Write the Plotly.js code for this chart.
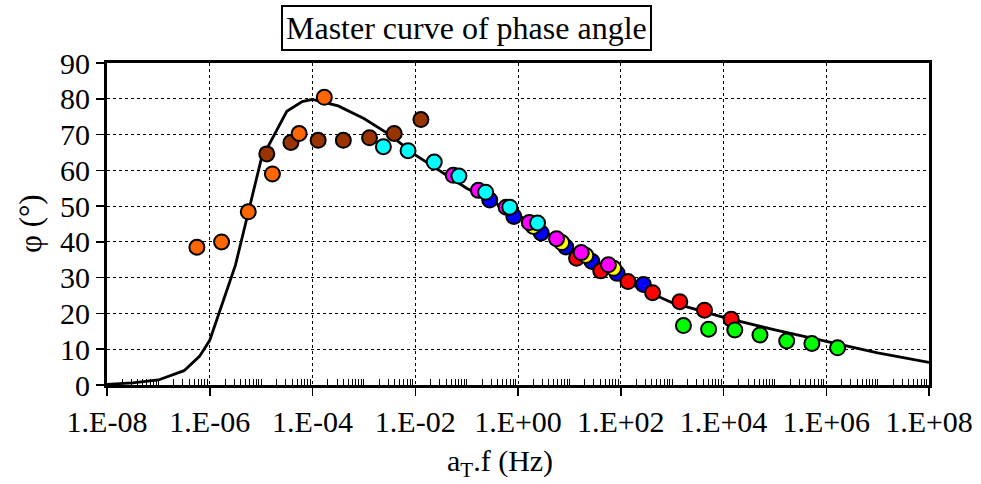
<!DOCTYPE html>
<html>
<head>
<meta charset="utf-8">
<script src="https://cdn.plot.ly/plotly-3.0.1.min.js"></script>
<style>html,body{margin:0;padding:0;background:#fff;}#chart{width:981px;height:484px;}</style>
</head>
<body>
<div id="chart"></div>
<script>
// Master curve (log10 of reduced frequency, phase angle in degrees)
const curveLogF = [-8, -7.5, -7, -6.5, -6.2, -6, -5.5, -5, -4.5, -4.2, -4, -3.5, -3, -2.5, -2, -1, 0, 1, 2, 3, 4, 5, 6, 7, 8];
const curvePhi  = [0.2, 0.6, 1.4, 4.0, 8.0, 12.5, 33.5, 63.0, 76.5, 79.2, 79.8, 78.0, 74.5, 70.0, 64.3, 55.0, 47.5, 38.5, 29.5, 23.0, 18.9, 15.4, 12.1, 9.0, 6.3];

const brownLogF = [-4.89, -4.42, -3.89, -3.40, -2.89, -2.41, -1.89];
const brownPhi  = [64.6, 67.8, 68.4, 68.4, 69.1, 70.3, 74.2];

const orangeLogF = [-6.25, -5.77, -5.25, -4.78, -4.26, -3.77];
const orangePhi  = [38.5, 40.0, 48.4, 59.0, 70.3, 80.4];

const blueLogF = [-0.55, -0.08, 0.45, 0.93, 1.44, 1.93, 2.44];
const bluePhi  = [51.7, 47.1, 42.5, 38.6, 34.5, 31.2, 28.1];

const redLogF = [1.14, 1.61, 2.14, 2.62, 3.15, 3.63, 4.15];
const redPhi  = [35.4, 31.9, 28.9, 25.8, 23.3, 20.9, 18.4];

const yellowLogF = [0.30, 0.85, 1.32, 1.86];
const yellowPhi  = [44.3, 39.8, 36.2, 32.6];

const magentaLogF = [-1.26, -0.77, -0.23, 0.22, 0.75, 1.23, 1.76];
const magentaPhi  = [58.6, 54.4, 49.7, 45.4, 40.9, 37.0, 33.6];

const cyanLogF = [-2.62, -2.14, -1.63, -1.15, -0.63, -0.16, 0.38];
const cyanPhi  = [66.6, 65.5, 62.3, 58.4, 53.9, 49.7, 45.3];

const greenLogF = [3.22, 3.71, 4.22, 4.71, 5.23, 5.72, 6.22];
const greenPhi  = [16.6, 15.6, 15.4, 14.0, 12.3, 11.6, 10.4];

const xTickVals = [1e-8, 1e-6, 1e-4, 1e-2, 1e0, 1e2, 1e4, 1e6, 1e8];
const xTickText = ["1.E-08", "1.E-06", "1.E-04", "1.E-02", "1.E+00", "1.E+02", "1.E+04", "1.E+06", "1.E+08"];
const yTickVals = [0, 10, 20, 30, 40, 50, 60, 70, 80, 90];

const titleText = 'Master curve of phase angle';
const xTitleText = 'a<sub>T</sub>.f (Hz)';
const yTitleText = 'φ (°)';

const pow10 = a => a.map(v => Math.pow(10, v));

// minor tick positions: 1..9 x 10^n, excluding labelled majors
const minorVals = [];
for (let n = -8; n < 8; n++) {
  for (let k = 1; k <= 9; k++) {
    if (k === 1 && n % 2 === 0) continue;
    minorVals.push(k * Math.pow(10, n));
  }
}

function pts(logf, phi, color) {
  return {
    x: pow10(logf), y: phi, type: 'scatter', mode: 'markers',
    marker: {size: 15, color: color, line: {color: '#000', width: 2}},
    showlegend: false, hoverinfo: 'x+y'
  };
}

const data = [
  {x: pow10(curveLogF), y: curvePhi, type: 'scatter', mode: 'lines',
   line: {color: '#000', width: 2.8}, showlegend: false},
  pts(brownLogF, brownPhi, '#993300'),
  pts(orangeLogF, orangePhi, '#FF6600'),
  pts(blueLogF, bluePhi, '#0000FF'),
  pts(redLogF, redPhi, '#FF0000'),
  pts(yellowLogF, yellowPhi, '#FFFF00'),
  pts(magentaLogF, magentaPhi, '#FF00FF'),
  pts(cyanLogF, cyanPhi, '#00FFFF'),
  pts(greenLogF, greenPhi, '#00FF00')
];

const serif = 'Liberation Serif';

const layout = {
  width: 981, height: 484,
  margin: {l: 107, r: 52, t: 63, b: 99},
  paper_bgcolor: '#fff', plot_bgcolor: '#fff',
  font: {family: serif, color: '#000'},
  xaxis: {
    type: 'log', range: [-8, 8],
    tickmode: 'array', tickvals: xTickVals, ticktext: xTickText,
    ticks: 'outside', ticklen: 8, tickwidth: 1.5, tickcolor: '#000',
    tickfont: {family: serif, size: 30, color: '#000'},
    showgrid: true, gridcolor: '#000', gridwidth: 1, griddash: 'dot',
    showline: true, linecolor: '#000', linewidth: 3, mirror: true,
    zeroline: false,
    minor: {tickvals: minorVals, ticks: 'inside', ticklen: 6, tickwidth: 1, tickcolor: '#000', showgrid: false}
  },
  yaxis: {
    range: [0, 90],
    tickmode: 'array', tickvals: yTickVals,
    ticks: 'outside', ticklen: 8, tickwidth: 1.5, tickcolor: '#000',
    tickfont: {family: serif, size: 30, color: '#000'},
    showgrid: true, gridcolor: '#000', gridwidth: 1, griddash: 'dot',
    showline: true, linecolor: '#000', linewidth: 3, mirror: true,
    zeroline: false
  },
  annotations: [{
    text: titleText,
    xref: 'paper', yref: 'paper', x: 0.437, y: 1.0, xanchor: 'center', yanchor: 'bottom', yshift: 12,
    showarrow: false,
    font: {family: serif, size: 32, color: '#000'},
    bordercolor: '#000', borderwidth: 2, borderpad: 3, bgcolor: '#fff'
  }, {
    text: xTitleText,
    xref: 'paper', yref: 'paper', x: 0.478, y: 0, xanchor: 'center', yanchor: 'middle', yshift: -78,
    showarrow: false,
    font: {family: serif, size: 30, color: '#000'}
  }, {
    text: yTitleText,
    xref: 'paper', yref: 'paper', x: 0, y: 0.5, xanchor: 'center', yanchor: 'middle', xshift: -77,
    textangle: -90, showarrow: false,
    font: {family: serif, size: 31, color: '#000'}
  }]
};

Plotly.newPlot('chart', data, layout, {staticPlot: true, displayModeBar: false});
</script>
</body>
</html>
